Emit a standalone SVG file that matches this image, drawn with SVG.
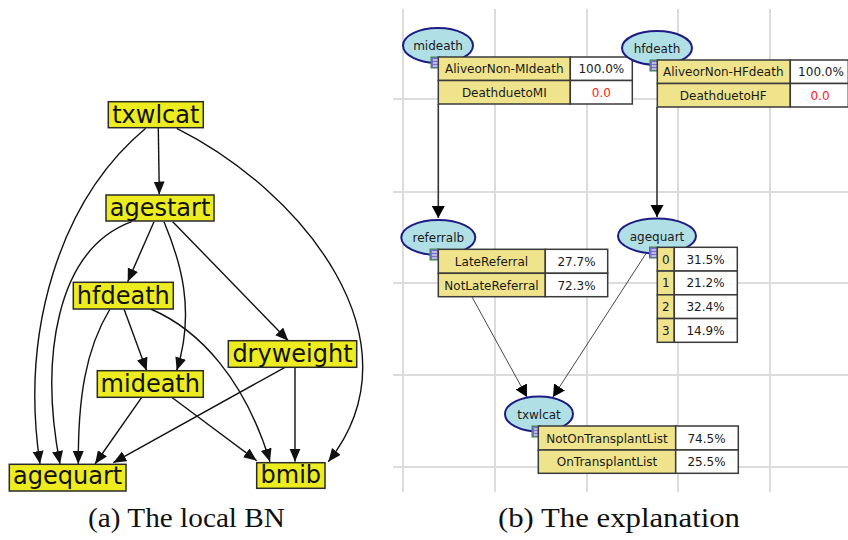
<svg xmlns="http://www.w3.org/2000/svg" width="848" height="540" viewBox="0 0 848 540">
  <style>
    .bn rect { fill: #ecec1e; stroke: #2a2a2a; stroke-width: 1.5; }
    .bn text { font-family: "DejaVu Sans", sans-serif; font-size: 24px; fill: #111; text-anchor: middle; }
    .e1 { fill: none; stroke: #111; stroke-width: 1.4; marker-end: url(#hA); }
    .grid line { stroke: #dcdcdc; stroke-width: 2; }
    .nd ellipse { fill: #b0e0e6; stroke: #1c1c84; stroke-width: 2; }
    .lbl { font-family: "DejaVu Sans", sans-serif; font-size: 12px; fill: #1a1a1a; text-anchor: middle; }
    .red { fill: #ff2020; }
    .st { fill: #efe38c; stroke: #3a3a3a; stroke-width: 1.5; }
    .vl { fill: #ffffff; stroke: #3a3a3a; stroke-width: 1.5; }
    .icon { fill: #7a6fd0; stroke: #3c8a3c; stroke-width: 1; }
    .iline { stroke: #ffffff; stroke-width: 1; }
    .e2 { fill: none; stroke: #333; stroke-width: 1.6; marker-end: url(#hB); }
    .e3 { fill: none; stroke: #333; stroke-width: 0.9; marker-end: url(#hB); }
    .cap { font-family: "Liberation Serif", serif; font-size: 26.5px; fill: #111; }
  </style>
  <defs>
    <marker id="hA" markerUnits="userSpaceOnUse" markerWidth="14" markerHeight="12" refX="13" refY="5.5" orient="auto">
      <path d="M0,0 L13,5.5 L0,11 z" fill="#111"/>
    </marker>
    <marker id="hB" markerUnits="userSpaceOnUse" markerWidth="13" markerHeight="14" refX="12" refY="6.5" orient="auto">
      <path d="M0,0 L12,6.5 L0,13 z" fill="#000"/>
    </marker>
  </defs>

  <!-- Panel (a): the local Bayesian network -->
  <g id="bn-edges">
    <path class="e1" d="M158.3,128 L159.3,194.5"/>
    <path class="e1" d="M145.7,128.3 C60,200 20,330 40,464"/>
    <path class="e1" d="M176.7,128.3 C300,190 425,340 328.3,461.7"/>
    <path class="e1" d="M154,221.7 L127.7,281.7"/>
    <path class="e1" d="M131.7,221.7 C55,250 40,360 60,464"/>
    <path class="e1" d="M164,221.7 C180,260 196,310 176.7,370.5"/>
    <path class="e1" d="M172.7,221.7 L288.3,340.7"/>
    <path class="e1" d="M124,309 L146.7,370.7"/>
    <path class="e1" d="M110,309 C85,350 78,400 78.3,464"/>
    <path class="e1" d="M150.7,309 C200,330 245,380 270,461.7"/>
    <path class="e1" d="M285,367.3 L113.3,462.7"/>
    <path class="e1" d="M295,367.3 L295,461.7"/>
    <path class="e1" d="M141.7,397.3 L95,464"/>
    <path class="e1" d="M171.7,397.3 L256.7,460.7"/>
  </g>
  <g id="bn-txwlcat" class="bn"><rect x="108.3" y="101.7" width="95" height="26"/><text x="155.8" y="122.5">txwlcat</text></g>
  <g id="bn-agestart" class="bn"><rect x="106" y="195" width="108" height="26"/><text x="160" y="216">agestart</text></g>
  <g id="bn-hfdeath" class="bn"><rect x="73.3" y="282.3" width="100" height="26.7"/><text x="123.3" y="303.5">hfdeath</text></g>
  <g id="bn-dryweight" class="bn"><rect x="228.3" y="340.7" width="128.4" height="26.6"/><text x="292.5" y="361.5">dryweight</text></g>
  <g id="bn-mideath" class="bn"><rect x="97.3" y="370.7" width="106" height="26.6"/><text x="150.3" y="391.8">mideath</text></g>
  <g id="bn-agequart" class="bn"><rect x="9.3" y="464.3" width="116.7" height="26.7"/><text x="67.6" y="484">agequart</text></g>
  <g id="bn-bmib" class="bn"><rect x="256.7" y="462.7" width="68.3" height="25.6"/><text x="290.8" y="483">bmib</text></g>

  <!-- Panel (b): explanation view on a grid canvas -->
  <g id="grid" class="grid">
    <line x1="403" y1="9" x2="403" y2="492"/>
    <line x1="495" y1="9" x2="495" y2="492"/>
    <line x1="587" y1="9" x2="587" y2="492"/>
    <line x1="678" y1="9" x2="678" y2="492"/>
    <line x1="770" y1="9" x2="770" y2="492"/>
    <line x1="393" y1="99" x2="848" y2="99"/>
    <line x1="393" y1="192" x2="848" y2="192"/>
    <line x1="393" y1="283" x2="848" y2="283"/>
    <line x1="393" y1="375" x2="848" y2="375"/>
    <line x1="393" y1="467" x2="848" y2="467"/>
  </g>

  <g id="ex-edges">
    <path class="e2" d="M438.3,104 L438.3,218"/>
    <path class="e2" d="M657,107 L657,217"/>
    <path class="e3" d="M472,297 L527,397"/>
    <path class="e3" d="M646,253.5 L553,397"/>
  </g>

  <g id="ex-mideath" class="nd">
    <ellipse cx="438" cy="45.5" rx="35" ry="17.5"/>
    <text class="lbl" x="438" y="50">mideath</text>
    <rect class="icon" x="431" y="57" width="9" height="11"/>
    <line class="iline" x1="433" y1="60" x2="438" y2="60"/><line class="iline" x1="433" y1="63" x2="438" y2="63"/><line class="iline" x1="433" y1="66" x2="438" y2="66"/>
    <rect class="st" x="438.3" y="57" width="132" height="23.5"/>
    <rect class="vl" x="570.3" y="57" width="62" height="23.5"/>
    <rect class="st" x="438.3" y="80.5" width="132" height="23.5"/>
    <rect class="vl" x="570.3" y="80.5" width="62" height="23.5"/>
    <text class="lbl" x="504.3" y="73">AliveorNon-MIdeath</text>
    <text class="lbl" x="601.3" y="73">100.0%</text>
    <text class="lbl" x="504.3" y="96.5">DeathduetoMI</text>
    <text class="lbl red" x="601.3" y="96.5">0.0</text>
  </g>

  <g id="ex-hfdeath" class="nd">
    <ellipse cx="657" cy="48" rx="35" ry="17"/>
    <text class="lbl" x="657" y="52.5">hfdeath</text>
    <rect class="icon" x="650" y="60" width="9" height="11"/>
    <line class="iline" x1="652" y1="63" x2="657" y2="63"/><line class="iline" x1="652" y1="66" x2="657" y2="66"/><line class="iline" x1="652" y1="69" x2="657" y2="69"/>
    <rect class="st" x="657.3" y="60" width="133" height="23.5"/>
    <rect class="vl" x="790.3" y="60" width="58" height="23.5"/>
    <rect class="st" x="657.3" y="83.5" width="133" height="23.5"/>
    <rect class="vl" x="790.3" y="83.5" width="58" height="23.5"/>
    <text class="lbl" x="723.3" y="76">AliveorNon-HFdeath</text>
    <text class="lbl" x="821" y="76">100.0%</text>
    <text class="lbl" x="723.3" y="99.5">DeathduetoHF</text>
    <text class="lbl red" x="820" y="99.5">0.0</text>
  </g>

  <g id="ex-referralb" class="nd">
    <ellipse cx="438.3" cy="237.5" rx="37" ry="17.5"/>
    <text class="lbl" x="438.3" y="242">referralb</text>
    <rect class="icon" x="430" y="249" width="9" height="11"/>
    <line class="iline" x1="432" y1="252" x2="437" y2="252"/><line class="iline" x1="432" y1="255" x2="437" y2="255"/><line class="iline" x1="432" y1="258" x2="437" y2="258"/>
    <rect class="st" x="438.3" y="249.3" width="107" height="24"/>
    <rect class="vl" x="545.3" y="249.3" width="62.4" height="24"/>
    <rect class="st" x="438.3" y="273.3" width="107" height="23.4"/>
    <rect class="vl" x="545.3" y="273.3" width="62.4" height="23.4"/>
    <text class="lbl" x="491.5" y="265.5">LateReferral</text>
    <text class="lbl" x="576.5" y="265.5">27.7%</text>
    <text class="lbl" x="491.5" y="289.5">NotLateReferral</text>
    <text class="lbl" x="576.5" y="289.5">72.3%</text>
  </g>

  <g id="ex-agequart" class="nd">
    <ellipse cx="657" cy="236" rx="39" ry="17.5"/>
    <text class="lbl" x="657" y="240.5">agequart</text>
    <rect class="icon" x="649.5" y="247" width="9" height="11"/>
    <line class="iline" x1="651.5" y1="250" x2="656.5" y2="250"/><line class="iline" x1="651.5" y1="253" x2="656.5" y2="253"/><line class="iline" x1="651.5" y1="256" x2="656.5" y2="256"/>
    <rect class="st" x="657.3" y="247.3" width="17" height="23.75"/>
    <rect class="vl" x="674.3" y="247.3" width="63" height="23.75"/>
    <rect class="st" x="657.3" y="271.05" width="17" height="23.75"/>
    <rect class="vl" x="674.3" y="271.05" width="63" height="23.75"/>
    <rect class="st" x="657.3" y="294.8" width="17" height="23.75"/>
    <rect class="vl" x="674.3" y="294.8" width="63" height="23.75"/>
    <rect class="st" x="657.3" y="318.55" width="17" height="23.75"/>
    <rect class="vl" x="674.3" y="318.55" width="63" height="23.75"/>
    <text class="lbl" x="665.8" y="263.5">0</text>
    <text class="lbl" x="705.5" y="263.5">31.5%</text>
    <text class="lbl" x="665.8" y="287.3">1</text>
    <text class="lbl" x="705.5" y="287.3">21.2%</text>
    <text class="lbl" x="665.8" y="311">2</text>
    <text class="lbl" x="705.5" y="311">32.4%</text>
    <text class="lbl" x="665.8" y="334.8">3</text>
    <text class="lbl" x="705.5" y="334.8">14.9%</text>
  </g>

  <g id="ex-txwlcat" class="nd">
    <ellipse cx="539" cy="414" rx="34" ry="17.5"/>
    <text class="lbl" x="539" y="418.5">txwlcat</text>
    <rect class="icon" x="532" y="426" width="9" height="11"/>
    <line class="iline" x1="534" y1="429" x2="539" y2="429"/><line class="iline" x1="534" y1="432" x2="539" y2="432"/><line class="iline" x1="534" y1="435" x2="539" y2="435"/>
    <rect class="st" x="538.3" y="426" width="137.4" height="24"/>
    <rect class="vl" x="675.7" y="426" width="62.6" height="24"/>
    <rect class="st" x="538.3" y="450" width="137.4" height="23.3"/>
    <rect class="vl" x="675.7" y="450" width="62.6" height="23.3"/>
    <text class="lbl" x="607" y="442.5">NotOnTransplantList</text>
    <text class="lbl" x="706.5" y="442.5">74.5%</text>
    <text class="lbl" x="607" y="466">OnTransplantList</text>
    <text class="lbl" x="706.5" y="466">25.5%</text>
  </g>

  <g id="captions">
    <text class="cap" x="88" y="527" textLength="197" lengthAdjust="spacingAndGlyphs">(a) The local BN</text>
    <text class="cap" x="498" y="527" textLength="242" lengthAdjust="spacingAndGlyphs">(b) The explanation</text>
  </g>
</svg>
